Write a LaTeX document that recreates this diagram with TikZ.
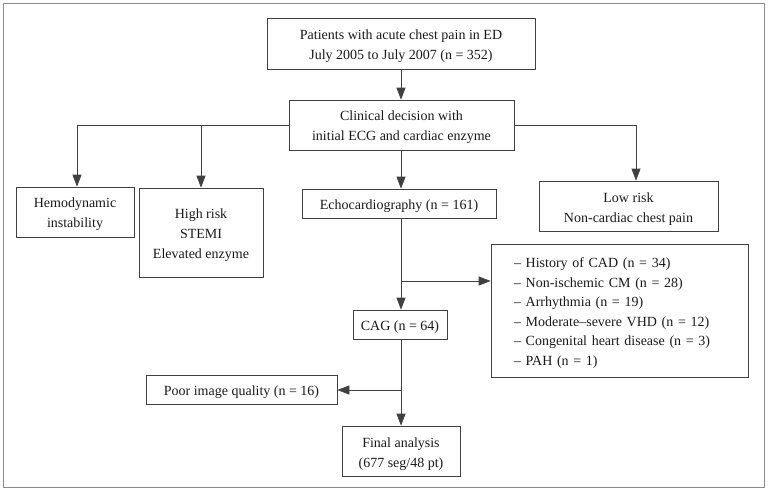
\documentclass[tikz,border=0pt]{standalone}
\usepackage{fontspec}
\setmainfont{Liberation Serif}
\usetikzlibrary{arrows.meta,calc}
\newcommand\tp{\rule{0pt}{15pt}}
\begin{document}
\begin{tikzpicture}[x=1pt,y=-1pt,
  box/.style={draw=black!75,line width=0.7pt,inner sep=0pt,align=center,
    font=\fontsize{14}{20}\selectfont,text=black!90},
  arr/.style={draw=black!75,line width=0.7pt,-{Triangle[length=12pt,width=9pt]}},
  ln/.style={draw=black!75,line width=0.7pt}]
\useasboundingbox (0,0) rectangle (768,491);
\draw[draw=black!45,line width=0.9pt] (3,3) rectangle (764,487);
\node[box,minimum width=268pt,minimum height=51pt] (pat) at (401,43.5) {\tp Patients with acute chest pain in ED\\July 2005 to July 2007 (n = 352)};
\node[box,minimum width=225pt,minimum height=50pt] (clin) at (401.5,125) {\tp Clinical decision with\\initial ECG and cardiac enzyme};
\node[box,minimum width=118pt,minimum height=50pt] (hemo) at (75,212) {\tp Hemodynamic\\instability};
\node[box,minimum width=124pt,minimum height=89pt] (high) at (201,232.5) {\tp High risk\\STEMI\\Elevated enzyme};
\node[box,minimum width=194pt,minimum height=29pt] (echo) at (399,203.5) {\tp Echocardiography (n = 161)};
\node[box,minimum width=179pt,minimum height=50pt] (low) at (628.5,206) {\tp Low risk\\Non-cardiac chest pain};
\node[box,minimum width=257pt,minimum height=133pt,align=left,text width=233pt,inner xsep=12pt,font=\fontsize{14}{19.6}\selectfont] (list) at (619.5,310.5) {\tp\hspace*{11pt}-- History of CAD (n = 34)\\\hspace*{11pt}-- Non-ischemic CM (n = 28)\\\hspace*{11pt}-- Arrhythmia (n = 19)\\\hspace*{11pt}-- Moderate--severe VHD (n = 12)\\\hspace*{11pt}-- Congenital heart disease (n = 3)\\\hspace*{11pt}-- PAH (n = 1)};
\node[box,minimum width=94pt,minimum height=29pt] (cag) at (400,324.5) {\tp CAG (n = 64)};
\node[box,minimum width=191pt,minimum height=29pt] (poor) at (241.5,389.5) {\tp Poor image quality (n = 16)};
\node[box,minimum width=118pt,minimum height=50pt] (final) at (401,451) {\tp Final analysis\\(677 seg/48 pt)};
\coordinate (sp) at (401,0);
\coordinate (b1) at (401,281);
\coordinate (b2) at (401,390);
\draw[arr] (pat.south -| sp) -- (clin.north -| sp);
\draw[arr] (clin.west) -| ([xshift=2pt]hemo.north);
\draw[arr] (clin.west -| high.north) -- (high.north);
\draw[arr] (clin.east) -| ([xshift=7.5pt]low.north);
\draw[arr] (clin.south -| sp) -- (echo.north -| sp);
\draw[arr] (echo.south -| sp) -- (cag.north -| sp);
\draw[arr] (b1) -- (b1 -| list.west);
\draw[arr] (cag.south -| sp) -- (final.north -| sp);
\draw[arr] (b2) -- (b2 -| poor.east);
\end{tikzpicture}
\end{document}
